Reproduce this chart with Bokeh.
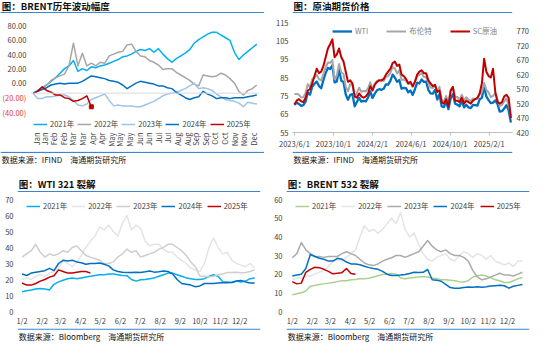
import math
import pandas as pd
from bokeh.plotting import figure
from bokeh.models import (Range1d, LinearAxis, FixedTicker, Legend, LegendItem, Span)
from bokeh.layouts import row, column
from bokeh.embed import file_html
from bokeh.resources import INLINE
from bokeh.core.properties import value

FONT = "Noto Sans CJK SC"
RULE = "#3A86D1"
TXT = "#404040"

# ---------------- data: panel 1 (BRENT 历年波动幅度, weekly samples of trading days) -------------
p1_years = ["2021年", "2022年", "2023年", "2024年", "2025年"]
brent_2021 = [0, 3, 6, 9, 13, 17, 22, 27, 30, 36, 24, 27, 25, 29, 28, 30, 31, 33, 35, 37, 40, 41, 43, 46, 48,
              47, 49, 45, 49, 43, 38, 34, 38, 41, 44, 48, 55, 59, 62, 65, 67, 67, 64, 61, 58, 45, 37, 42, 46, 50, 54]
brent_2022 = [0, 2, 5, 9, 14, 17, 19, 21, 30, 55, 30, 44, 30, 33, 30, 34, 33, 41, 43, 45, 46, 53, 54, 46, 41,
              40, 36, 34, 31, 26, 27, 27, 23, 20, 17, 14, 10, 8, 20, 19, 18, 19, 22, 20, 16, 11, 2, -2, 3, 5, 9]
brent_2023 = [0, -6, -6, -4, -4, -3, -2, -2, -4, -8, -13, -14, -12, -7, -5, -3, -1, -8, -14, -13, -14, -14, -14, -15, -15,
              -13, -11, -9, -6, -3, -1, 0, 1, 3, 5, 8, 11, 5, 6, 5, 3, -1, -4, -7, -8, -9, -11, -15, -10, -11, -12]
brent_2024 = [0, 2, 4, 6, 9, 10, 11, 10, 11, 11, 11, 13, 16, 19, 18, 17, 16, 14, 13, 12, 9, 5, 8, 11, 13,
              12, 11, 10, 8, 8, 6, 5, 1, -2, -5, -7, -5, -4, 2, -1, -3, -6, -5, -5, -6, -5, -5, -5, -4, -3, -2]
brent_2025 = [0, 2, 7, 3, 1, -2, -2, -5, -6, -9, -8, -6, -3, -15]
p1_month_labels = ["Jan", "Jan", "Feb", "Feb", "Mar", "Mar", "Apr", "Apr", "May", "May", "May", "Jun", "Jun",
                   "Jul", "Jul", "Aug", "Aug", "Sep", "Sep", "Oct", "Oct", "Nov", "Nov", "Dec"]
p1_y_ticks = [80, 60, 40, 20, 0, -20, -40]

# ---------------- data: panel 2 (原油期货价格, weekly from 2023/6/1) ----------------
p2_start = "2023-06-01"
wti = [70.1, 71.3, 70.6, 69.5, 69.9, 71.8, 76.9, 75.6, 80.1, 81.6,
       82.8, 80.4, 79.1, 83.6, 87.5, 90.2, 89.6, 91.7, 82.3, 82.9,
       89.4, 83.2, 82.5, 75.7, 72.9, 75.5, 75.9, 69.3, 71.6, 73.9,
       71.8, 72.2, 72.0, 74.1, 77.4, 73.8, 76.2, 78.0, 78.6, 78.3,
       78.9, 81.3, 81.1, 83.2, 86.6, 85.0, 82.7, 83.6, 78.9, 79.3,
       79.2, 76.9, 77.9, 75.5, 78.6, 82.2, 81.7, 83.9, 82.6, 82.8,
       78.3, 76.3, 76.2, 78.2, 73.0, 75.9, 69.2, 68.9, 71.9, 67.7,
       73.7, 75.9, 70.7, 70.2, 69.3, 72.4, 68.7, 70.1, 68.7, 68.3,
       70.0, 69.9, 69.6, 73.1, 73.9, 80.0, 74.6, 72.7, 71.0, 71.3,
       72.5, 70.4, 66.4, 66.6, 68.1, 69.9, 66.9, 60.5]
brent = [76.0, 76.0, 75.7, 74.1, 74.3, 76.5, 81.4, 79.6, 84.2, 85.1,
         86.4, 84.1, 83.4, 86.9, 90.6, 93.2, 93.0, 94.5, 84.1, 86.0,
         92.4, 87.9, 86.9, 80.0, 77.4, 81.4, 80.9, 74.1, 76.6, 79.4,
         77.2, 77.6, 77.4, 79.1, 82.4, 78.7, 81.6, 83.0, 83.7, 83.6,
         83.0, 85.4, 85.8, 87.5, 90.7, 90.0, 87.1, 89.0, 83.7, 83.9,
         83.3, 81.4, 81.9, 79.9, 82.8, 85.7, 86.4, 87.4, 85.4, 85.1,
         82.4, 79.5, 79.2, 81.0, 77.2, 79.9, 72.7, 72.0, 74.9, 71.6,
         77.6, 79.4, 74.5, 74.4, 72.8, 75.6, 72.6, 74.2, 72.9, 72.1,
         73.5, 73.3, 73.3, 76.0, 76.9, 82.0, 78.3, 76.9, 74.3, 75.0,
         76.5, 73.0, 69.5, 70.0, 72.0, 73.6, 70.1, 64.0]
sc = [517, 530, 535, 528, 525, 540, 565, 570, 590, 615,
      640, 625, 630, 650, 680, 710, 725, 742, 680, 690,
      710, 680, 665, 630, 595, 600, 590, 545, 540, 555,
      545, 540, 545, 555, 580, 565, 585, 595, 600, 600,
      605, 620, 630, 640, 660, 665, 650, 655, 620, 615,
      605, 590, 595, 580, 595, 620, 630, 635, 625, 625,
      600, 590, 580, 585, 560, 565, 525, 520, 535, 510,
      565, 578, 530, 530, 525, 540, 520, 530, 525, 520,
      530, 535, 540, 555, 590, 675, 630, 615, 610, 640,
      560, 525, 520, 525, 545, 550, 540, 470]
p2_date_labels = ["2023/6/1", "2023/10/1", "2024/2/1", "2024/6/1", "2024/10/1", "2025/2/1"]

# ---------------- data: panel 3 (WTI 321 裂解, weekly from 1/2) ----------------
wti321_2021 = [12.4, 13, 13.4, 14, 14.4, 14, 13.4, 17, 18.5, 19.5, 20.5, 21, 20.5, 21, 21.5, 22, 22.5, 23, 23, 23.4,
               23.4, 23, 22.5, 22.4, 20, 19, 19.8, 20, 20.5, 21, 22, 23, 24, 24, 23, 22, 21, 20.5, 20, 20,
               20.5, 22, 23, 22, 18.5, 18.5, 18, 19, 18.5, 19, 20.5, 21]
wti321_2022 = [20, 21, 20, 22, 23, 22, 24, 25, 27, 32, 30, 28, 31, 35, 40, 44, 47, 53, 51, 54,
               50, 47, 55, 60, 51, 54, 52, 44, 41, 42, 42, 39, 37, 37, 34, 32, 30, 27, 26, 25,
               30, 40, 46, 40, 36, 37, 32, 30, 29, 28, 30, 27]
wti321_2023 = [34, 36, 38, 42, 37, 34, 36, 35, 36, 38, 37, 40, 41, 38, 35, 34, 33, 32, 30, 30,
               31, 34, 36, 39, 37, 38, 34, 35, 36, 37, 39, 40, 42, 42, 40, 38, 35, 31, 28, 22,
               22, 21.5, 22, 23, 23.5, 24.4, 24.4, 24.6, 24.2, 24.4, 25, 26]
wti321_2024 = [23.4, 22.5, 24, 24.5, 25, 25.5, 27, 25.5, 30, 32, 31.5, 32, 31, 30.5, 29.5, 30, 30, 30.3, 29.5, 28.5,
               26, 25, 24.5, 24.4, 24.4, 24.5, 24.4, 24.8, 25.3, 24.6, 24.8, 25.3, 25, 23.5, 20, 17.5, 17, 16.5, 15.5, 16,
               17.5, 17.5, 17.5, 17.8, 18, 18, 18.3, 19, 19.4, 18.5, 17.8, 17.8]
wti321_2025 = [17.8, 16.5, 16.5, 17.5, 19, 20, 21.5, 22.4, 26, 25, 24, 24, 24.5, 25, 25, 24]

# ---------------- data: panel 4 (BRENT 532 裂解, weekly from 1/2) ----------------
b532_2021 = [9, 9.5, 10, 11, 13.5, 14, 14.5, 14.8, 15.2, 15.5, 16, 16.5, 16.5, 17, 17.2, 17.5, 17.5, 17.8, 18.5, 19.2,
             19.8, 20, 20.3, 20, 18, 17.5, 18, 18.2, 18.5, 18.7, 18.5, 18, 17.5, 17, 17, 16.8, 16.5, 16, 15.8, 16.5,
             18.5, 19.2, 19.5, 19, 18, 17, 16.5, 15.5, 15.5, 16.5, 17.5, 18.2]
b532_2022 = [17, 18, 18, 19, 19, 20, 21, 22, 24, 27, 28, 27, 29, 31, 33, 40, 46, 43, 44, 42,
             44, 47, 50, 47, 53, 44, 40, 42, 36, 31, 28, 27, 29, 30, 31, 28, 27, 30, 32, 31,
             29, 31, 30, 28, 30, 27, 26, 25, 26, 24, 27, 27]
b532_2023 = [28.8, 31, 37, 33, 31, 29.5, 29.5, 29, 29.5, 29.5, 29.5, 31, 32, 31, 30, 28, 26, 25, 24.6, 25.5,
             27, 28, 28.8, 30, 30, 29, 30, 31, 32, 35, 38, 35, 33, 32, 33, 31, 30, 30, 29, 27,
             22, 18.5, 17, 17.5, 18.5, 19.5, 20.5, 19.5, 19.5, 19, 20, 21]
b532_2024 = [19, 19.5, 20, 23, 30.5, 29.5, 28.5, 28, 27, 27, 28.5, 28, 26.5, 25.5, 25.5, 25, 24.2, 23.5, 23, 22.6,
             21.5, 20, 19.3, 19.3, 19.5, 19.8, 20.4, 21, 20.9, 21, 22.5, 17, 16.8, 16.2, 14.5, 12.8, 12.5, 12.5, 12.8, 13.1,
             13, 13.3, 13, 13.2, 13.6, 13.8, 14, 13.8, 12.5, 13.5, 14, 14.5]
b532_2025 = [16, 14.8, 15.2, 21, 22.6, 23.7, 23.5, 22.6, 21.5, 20.2, 20.5, 20.8, 23, 20.4, 19.9]

month_day_labels = [f"{m}/2" for m in range(1, 13)]

# ---------------- helpers ----------------
def strip_fig(w, h, text, ty, bold, size, line_y):
    p = figure(width=w, height=h, x_range=Range1d(0, 1), y_range=Range1d(0, 1),
               toolbar_location=None, output_backend="svg",
               x_axis_location=None, y_axis_location=None, min_border=0)
    p.grid.grid_line_color = None
    p.outline_line_color = None
    p.text(x=[0.005], y=[ty], text=[text], text_font=value(FONT), text_font_size=size,
           text_font_style="bold" if bold else "normal", text_baseline="middle",
           text_color="#111111")
    p.segment(x0=[0], y0=[line_y], x1=[1], y1=[line_y], line_color=RULE, line_width=1.2)
    return p


def style(p):
    p.outline_line_color = None
    p.grid.grid_line_color = None
    for ax in p.axis:
        ax.axis_line_color = None
        ax.major_tick_line_color = None
        ax.minor_tick_line_color = None
        ax.major_tick_out = 0
        ax.major_tick_in = 0
        ax.minor_tick_out = 0
        ax.minor_tick_in = 0
        ax.major_label_text_font = FONT
        ax.major_label_text_font_size = "7.5px"
        ax.major_label_text_color = TXT
        ax.major_label_standoff = 4


def legend(p, items, loc, spacing, gw=14, color=TXT, lw=0):
    lg = Legend(items=[LegendItem(label=l, renderers=[r]) for l, r in items],
                orientation="horizontal", location=loc, spacing=spacing, padding=0, margin=0,
                glyph_width=gw, glyph_height=10, label_height=10, label_width=lw, label_standoff=3,
                label_text_font=FONT, label_text_font_size="7.5px", label_text_color=color,
                border_line_color=None, background_fill_alpha=0)
    p.add_layout(lg)


def main_fig(w, h, xr, yr, left, right, top, bottom, **kw):
    return figure(width=w, height=h, x_range=xr, y_range=yr, toolbar_location=None,
                  output_backend="svg", min_border_left=left, min_border_right=right,
                  min_border_top=top, min_border_bottom=bottom, **kw)

LW, RW = 264, 267

# ---------------- panel 1 ----------------
P1H, P1T, P1B, P1YL = 138, 7, 22, 30
y1r = Range1d(-40, 80)
m1 = main_fig(LW - P1YL, P1H, Range1d(-3, 253), y1r, 0, 5, P1T, P1B, y_axis_location=None)
style(m1)
m1.add_layout(Span(location=0, dimension="width", line_color="#D9D9D9", line_width=1))
c1 = ["#00B0F0", "#A6A6A6", "#9DC3E6", "#0070C0", "#C00000"]
r1 = []
for ser, col in zip([brent_2021, brent_2022, brent_2023, brent_2024, brent_2025], c1):
    xs = [5 * i for i in range(len(ser))]
    r1.append(m1.line(xs, ser, line_color=col, line_width=1.5, line_join="round"))
m1.scatter([5 * (len(brent_2025) - 1)], [brent_2025[-1]], marker="square", size=4, color="#C00000")
p1_ticks = [round(2 + 10.6 * i) for i in range(len(p1_month_labels))]
m1.xaxis.ticker = FixedTicker(ticks=p1_ticks)
m1.xaxis.major_label_overrides = {t: l for t, l in zip(p1_ticks, p1_month_labels)}
m1.xaxis.major_label_orientation = math.pi / 2
m1.xaxis.major_label_standoff = 3
legend(m1, list(zip(p1_years, r1)), (3, 0), 3)

# y tick label strip for panel 1 (negatives shown in red parentheses), sharing the same scale
u = (y1r.end - y1r.start) / (P1H - P1T - P1B)
ylab = figure(width=P1YL, height=P1H, x_range=Range1d(0, 1),
              y_range=Range1d(y1r.start - P1B * u, y1r.end + P1T * u),
              toolbar_location=None, output_backend="svg",
              x_axis_location=None, y_axis_location=None, min_border=0)
ylab.grid.grid_line_color = None
ylab.outline_line_color = None
ylab.text(x=[0.86] * len(p1_y_ticks), y=p1_y_ticks,
          text=[f"{v:.2f}" if v >= 0 else f"({abs(v):.2f})" for v in p1_y_ticks],
          text_color=[TXT if v >= 0 else "#E53935" for v in p1_y_ticks],
          text_align="right", text_baseline="middle", text_font=value(FONT), text_font_size="7.5px")

# ---------------- panel 2 ----------------
start = pd.Timestamp(p2_start)
d2 = pd.date_range(p2_start, periods=len(wti), freq="7D")
x2 = [(d - start).days for d in d2]
m2 = main_fig(RW, 138, Range1d(-6, 684), Range1d(55, 115), 25, 22, 9, 19)
m2.extra_y_ranges = {"sc": Range1d(420, 800)}
m2.add_layout(LinearAxis(y_range_name="sc", ticker=FixedTicker(ticks=list(range(420, 771, 50)))), "right")
style(m2)
rw = m2.line(x2, wti, line_color="#0070C0", line_width=2.3, line_join="round")
rb = m2.line(x2, brent, line_color="#A6A6A6", line_width=2, line_join="round")
rs = m2.line(x2, sc, line_color="#C00000", line_width=2, line_join="round", y_range_name="sc")
m2.yaxis[0].ticker = FixedTicker(ticks=list(range(55, 116, 10)))
p2_ticks = [(pd.to_datetime(s, format="%Y/%m/%d") - start).days for s in p2_date_labels]
m2.xaxis.ticker = FixedTicker(ticks=p2_ticks)
m2.xaxis.major_label_overrides = {t: l for t, l in zip(p2_ticks, p2_date_labels)}
m2.xaxis.axis_line_color = "#BFBFBF"
m2.xaxis.major_tick_line_color = "#BFBFBF"
m2.xaxis.major_tick_out = 3
m2.xaxis.major_label_standoff = 2
legend(m2, [("WTI", rw), ("布伦特", rb), ("SC原油", rs)], (40, 96), 18, gw=20, color="#7F7F7F")

# ---------------- panel 3 & 4 ----------------
base = pd.Timestamp("2023-01-02")
md_ticks = [(pd.Timestamp(2023, m, 2) - base).days for m in range(1, 13)]

def seasonal(w, xr, yr, left, right, series, colors, loc, spacing):
    m = main_fig(w, 136, xr, yr, left, right, 7, 17)
    style(m)
    rs_ = []
    for ser, col in zip(series, colors):
        xs = [7 * i for i in range(len(ser))]
        rs_.append(m.line(xs, ser, line_color=col, line_width=1.5, line_join="round"))
    m.xaxis.ticker = FixedTicker(ticks=md_ticks)
    m.xaxis.major_label_overrides = {t: l for t, l in zip(md_ticks, month_day_labels)}
    m.xaxis.major_label_standoff = 3
    m.yaxis.ticker = FixedTicker(ticks=list(range(int(yr.start), int(yr.end) + 1, 10)))
    legend(m, list(zip(p1_years, rs_)), loc, spacing)
    return m

m3 = seasonal(LW, Range1d(-7, 366), Range1d(0, 70), 17, 4,
              [wti321_2021, wti321_2022, wti321_2023, wti321_2024, wti321_2025],
              ["#00B0F0", "#E4E4E4", "#CFCDCD", "#0070C0", "#C00000"], (9, 100), 4)
m4 = seasonal(RW, Range1d(-9, 368), Range1d(0, 60), 19, 5,
              [b532_2021, b532_2022, b532_2023, b532_2024, b532_2025],
              ["#A9D18E", "#E4E4E4", "#AEAAAA", "#0070C0", "#C00000"], (9, 100), 5)

# ---------------- headers / footers ----------------
h1 = strip_fig(LW, 13, "图：BRENT历年波动幅度", 0.55, True, "9.5px", 0.06)
h2 = strip_fig(RW, 13, "图：原油期货价格", 0.55, True, "9.5px", 0.06)
f1 = strip_fig(LW, 13, "数据来源：IFIND　海通期货研究所", 0.4, False, "8px", 0.94)
f2 = strip_fig(RW, 13, "数据来源：IFIND　海通期货研究所", 0.4, False, "8px", 0.94)
h3 = strip_fig(LW, 28, "图：WTI 321 裂解", 0.3, True, "9.5px", 0.03)
h4 = strip_fig(RW, 28, "图：BRENT 532 裂解", 0.3, True, "9.5px", 0.03)
f3 = strip_fig(LW, 14, "数据来源：Bloomberg　海通期货研究所", 0.4, False, "8px", 0.95)
f4 = strip_fig(RW, 14, "数据来源：Bloomberg　海通期货研究所", 0.4, False, "8px", 0.95)

top = row(column(h1, row(ylab, m1), f1), column(h2, m2, f2), spacing=3)
bottom = row(column(h3, m3, f3), column(h4, m4, f4), spacing=3)
layout = column(top, bottom)

open("out.html", "w").write(file_html(layout, INLINE, title="chart"))
